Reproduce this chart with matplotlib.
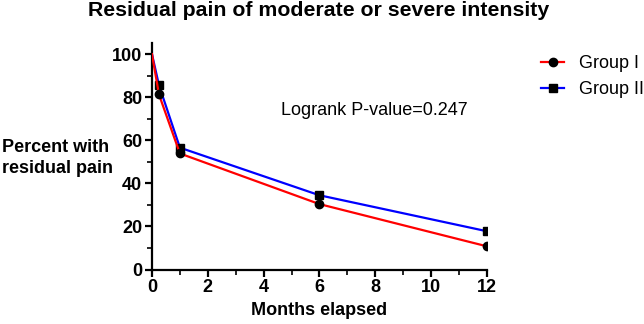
import numpy as np
import matplotlib
matplotlib.use("Agg")
from matplotlib import pyplot as plt
from matplotlib.ticker import MultipleLocator

plt.rcParams['font.family'] = ['Liberation Sans', 'DejaVu Sans']

months = [0, 0.25, 1, 6, 12]
group1 = [100, 81.3, 53.9, 30.4, 10.8]
group2 = [100, 85.6, 56.6, 34.5, 17.8]

fig = plt.figure(figsize=(6.44, 3.24), dpi=100)
ax = fig.add_axes([0.236, 0.168, 0.52, 0.698])

# markers only on the measured points, not on the start at 100
ax.plot(months, group2, color='#0000ff', lw=1.6, marker='s', ms=5.5, mfc='black', mec='black',
        markevery=[1, 2, 3, 4], label='Group II', zorder=3)
ax.plot(months, group1, color='#ff0000', lw=1.6, marker='o', ms=6, mfc='black', mec='black',
        markevery=[1, 2, 3, 4], label='Group I', zorder=4)

ax.set_xlim(0, 12)
ax.set_ylim(0, 105)
ax.xaxis.set_major_locator(MultipleLocator(2))
ax.xaxis.set_minor_locator(MultipleLocator(1))
ax.yaxis.set_major_locator(MultipleLocator(20))
ax.yaxis.set_minor_locator(MultipleLocator(10))
for s in ['top', 'right']:
    ax.spines[s].set_visible(False)
for s in ['left', 'bottom']:
    ax.spines[s].set_linewidth(1.6)
ax.tick_params(which='major', direction='out', length=5, width=1.6, labelsize=13, pad=2)
ax.tick_params(which='minor', direction='out', length=3.5, width=1.2)
for lab in ax.get_xticklabels() + ax.get_yticklabels():
    lab.set_fontweight('bold')

ax.set_xlabel('Months elapsed', fontsize=13, fontweight='bold', labelpad=4)
fig.text(0.003, 0.512, 'Percent with\nresidual pain', fontsize=13, fontweight='bold',
         ha='left', va='center', linespacing=1.25)
fig.suptitle('Residual pain of moderate or severe intensity', fontsize=15.3,
             fontweight='bold', x=0.495, y=0.998, va='top')
fig.text(0.581, 0.66, 'Logrank P-value=0.247', fontsize=13, ha='center', va='center')

handles, labels = ax.get_legend_handles_labels()
fig.legend(handles[::-1], labels[::-1], loc='upper left', bbox_to_anchor=(0.84, 0.83),
           frameon=False, fontsize=13, handlelength=1.3, handletextpad=0.8,
           borderpad=0, borderaxespad=0, labelspacing=0.5)

fig.savefig('out.png', dpi=100)
